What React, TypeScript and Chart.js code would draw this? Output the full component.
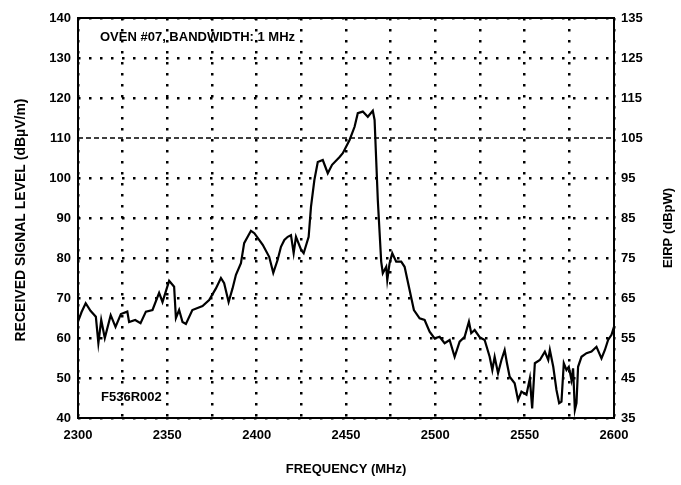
import React, { useEffect, useRef } from "react";
import { Chart, registerables } from "chart.js";

Chart.register(...registerables);

const frequencies = [
  2300, 2302, 2304.3, 2307, 2310, 2311.4, 2313, 2315, 2318.3, 2321, 2324, 2327.6, 2328.6, 2332, 2335, 2338,
  2341.7, 2345.4, 2347.3, 2351, 2353.8, 2354.8, 2356.6, 2358.5, 2360.4, 2364, 2369.7, 2373.4, 2377.2, 2380,
  2381.8, 2384.3, 2386.5, 2388.4, 2391.2, 2393, 2396.8, 2398.7, 2403.4, 2407, 2409.3, 2411.7, 2413.6, 2415.5,
  2417.4, 2419.2, 2420.7, 2422, 2424.9, 2426.3, 2429.1, 2430.4, 2432.3, 2434.2, 2437, 2439.8, 2442.2, 2446.3,
  2448.2, 2452, 2454.8, 2456.6, 2459.4, 2462.2, 2465, 2466, 2467.8, 2469.7, 2470.6, 2472.5, 2473.1, 2474.4,
  2475.9, 2478.1, 2480.9, 2482.8, 2485.2, 2488, 2491.2, 2494, 2496.8, 2499.6, 2502.4, 2505.2, 2508, 2510.8,
  2513.6, 2516.4, 2518.8, 2520.1, 2522, 2524.8, 2527.6, 2530.4, 2531.9, 2533.2, 2535.1, 2537, 2538.8, 2540.1,
  2541.6, 2544.4, 2546.3, 2548.2, 2551, 2552.9, 2554.2, 2555.7, 2558.5, 2561.3, 2563.2, 2564.1, 2566, 2567.8,
  2569.3, 2570.6, 2571.9, 2573.4, 2574.7, 2576.2, 2577.1, 2578.1, 2579, 2579.9, 2581.8, 2584.6, 2587.4, 2590.2,
  2593, 2594.9, 2596.7, 2598.6, 2600,
];

const signalLevels = [
  64.1, 66.5, 68.7, 66.8, 65.3, 58.7, 64.5, 60, 65.7, 62.8, 66, 66.6, 64, 64.5, 63.7, 66.6,
  67, 71.3, 69, 74.3, 72.8, 65, 67, 64, 63.5, 67, 68, 69.5, 72.4, 75,
  73.7, 69, 72.4, 75.8, 78.7, 83.7, 86.8, 86.2, 83.3, 80.3, 76.3, 79.5, 82.8, 84.5,
  85.3, 85.7, 81.2, 85.3, 82, 81.2, 85.3, 92.8, 99.5, 104, 104.5, 101.2, 103.3, 105.2,
  106.2, 109.5, 112.8, 116.2, 116.6, 115.3, 116.8, 114.5, 94.5, 79.1, 76.2, 77.8, 74.5, 78.7,
  81.2, 79.1, 79.1, 77.8, 72.8, 67, 64.9, 64.5, 61.6, 59.9, 60.3, 58.7, 59.5, 55.3,
  59.1, 60.3, 64.1, 61.2, 62, 60.2, 59.5, 55.3, 52, 55.3, 51.2, 54.5, 57, 53.7,
  50.3, 48.7, 44.5, 46.6, 45.8, 49.9, 42.4, 53.7, 54.5, 56.6, 54.5, 57, 52.8, 47,
  43.7, 44.1, 53.7, 52, 52.8, 49.5, 52.4, 42, 43.7, 52.8, 55.3, 56.2, 56.6, 57.8,
  54.9, 57, 59.5, 60.8, 62.8,
];

const xRange = [2300, 2600];
const leftRange = [40, 140];
const rightRange = [35, 135];
const xLabelStep = 50;
const xGridStep = 25;
const yStep = 10;
const dashedGridValue = 110;

const titleLeft = "RECEIVED SIGNAL LEVEL (dBµV/m)";
const titleRight = "EIRP (dBpW)";
const titleBottom = "FREQUENCY (MHz)";
const noteTop = "OVEN #07, BANDWIDTH: 1 MHz";
const noteBottom = "F536R002";

const FONT = "'Liberation Sans', Arial, sans-serif";

export default function App() {
  const ref = useRef<HTMLCanvasElement | null>(null);

  useEffect(() => {
    document.body.style.margin = "0";
    const canvas = ref.current!;
    const decor = {
      id: "decor",
      beforeDraw(chart: any) {
        const c = chart.ctx;
        c.save();
        c.fillStyle = "#fff";
        c.fillRect(0, 0, chart.width, chart.height);
        c.restore();
      },
      beforeDatasetsDraw(chart: any) {
        const c = chart.ctx;
        const a = chart.chartArea;
        const yy = chart.scales.y.getPixelForValue(dashedGridValue);
        c.save();
        c.strokeStyle = "#000";
        c.lineWidth = 1.5;
        c.setLineDash([5, 3]);
        c.beginPath();
        c.moveTo(a.left, yy);
        c.lineTo(a.right, yy);
        c.stroke();
        c.restore();
      },
      afterDraw(chart: any) {
        const c = chart.ctx;
        const a = chart.chartArea;
        c.save();
        c.strokeStyle = "#000";
        c.lineWidth = 2;
        c.strokeRect(a.left, a.top, a.right - a.left, a.bottom - a.top);
        c.fillStyle = "#000";
        c.font = `bold 13px ${FONT}`;
        c.textBaseline = "middle";
        c.textAlign = "left";
        c.fillText(noteTop, a.left + 22, a.top + 19);
        c.fillText(noteBottom, a.left + 23, a.bottom - 21);
        c.textAlign = "center";
        c.fillText(titleBottom, (a.left + a.right) / 2, 469);
        c.save();
        c.font = `bold 14px ${FONT}`;
        c.translate(21, (a.top + a.bottom) / 2 + 2);
        c.rotate(-Math.PI / 2);
        c.fillText(titleLeft, 0, 0);
        c.restore();
        c.save();
        c.translate(668, (a.top + a.bottom) / 2 + 10);
        c.rotate(-Math.PI / 2);
        c.fillText(titleRight, 0, 0);
        c.restore();
        c.restore();
      },
    };

    const chart = new Chart(canvas, {
      type: "line",
      data: {
        datasets: [
          {
            data: frequencies.map((f, i) => ({ x: f, y: signalLevels[i] })),
            borderColor: "#000",
            borderWidth: 2.2,
            pointRadius: 0,
            tension: 0,
            yAxisID: "y",
          },
        ],
      },
      options: {
        responsive: false,
        animation: false,
        layout: { padding: { top: 18, left: 0, right: 0, bottom: 0 } },
        plugins: { legend: { display: false }, tooltip: { enabled: false } },
        scales: {
          x: {
            type: "linear",
            min: xRange[0],
            max: xRange[1],
            afterFit: (s: any) => {
              s.height = 67;
            },
            ticks: {
              stepSize: xGridStep,
              color: "#000",
              font: { family: FONT, size: 13, weight: "bold" },
              padding: 10,
              maxRotation: 0,
              autoSkip: false,
              callback: (v: any) => (Number(v) % xLabelStep === 0 ? String(v) : ""),
            },
            grid: { color: "#000", lineWidth: 2.5, drawTicks: false },
            border: { display: false, dash: [2.5, 8.5] },
          },
          y: {
            position: "left",
            min: leftRange[0],
            max: leftRange[1],
            afterFit: (s: any) => {
              s.width = 78;
            },
            ticks: {
              stepSize: yStep,
              color: "#000",
              font: { family: FONT, size: 13, weight: "bold" },
              padding: 7,
            },
            grid: {
              color: (ctx: any) => (ctx.tick && ctx.tick.value === dashedGridValue ? "rgba(0,0,0,0)" : "#000"),
              lineWidth: 2.5,
              drawTicks: false,
            },
            border: { display: false, dash: [2.5, 8.5] },
          },
          y2: {
            position: "right",
            min: rightRange[0],
            max: rightRange[1],
            afterFit: (s: any) => {
              s.width = 67;
            },
            ticks: {
              stepSize: yStep,
              color: "#000",
              font: { family: FONT, size: 13, weight: "bold" },
              padding: 7,
            },
            grid: { display: false, drawTicks: false },
            border: { display: false },
          },
        },
      },
      plugins: [decor],
    } as any);

    return () => chart.destroy();
  }, []);

  return (
    <div style={{ position: "absolute", left: 0, top: 0, width: 681, height: 485 }}>
      <canvas ref={ref} width={681} height={485} />
    </div>
  );
}
